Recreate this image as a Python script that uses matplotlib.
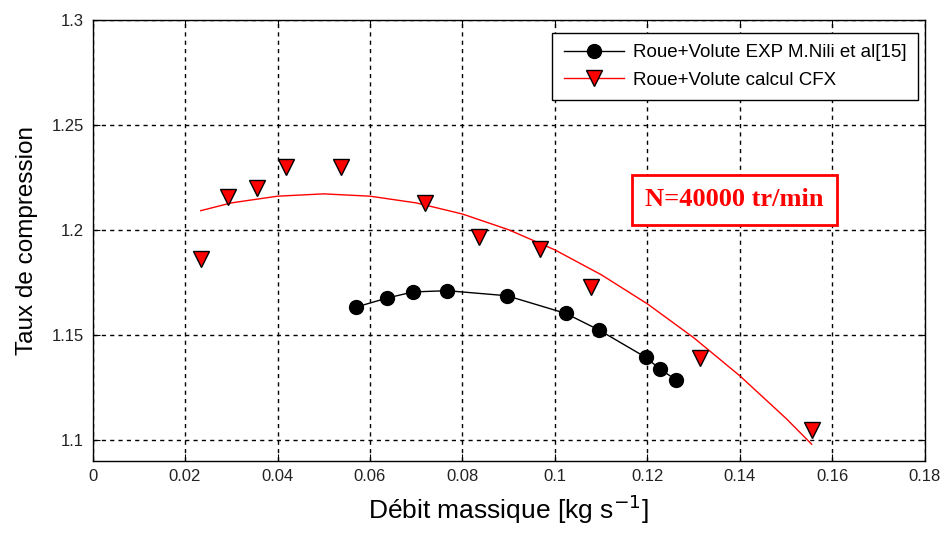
import numpy as np
import matplotlib
matplotlib.use("Agg")
import matplotlib.pyplot as plt

# Experimental points (black circles)
exp_x = [0.0570, 0.0637, 0.0693, 0.0767, 0.0896, 0.1023, 0.1095, 0.1196, 0.1227, 0.1262]
exp_y = [1.1633, 1.1676, 1.1705, 1.1711, 1.1687, 1.1603, 1.1524, 1.1394, 1.1338, 1.1286]

# CFX points (red triangles)
cfx_x = [0.0234, 0.0294, 0.0355, 0.0418, 0.0537, 0.0719, 0.0836, 0.0968, 0.1077, 0.1314, 0.1556]
cfx_y = [1.1860, 1.2159, 1.2199, 1.2301, 1.2301, 1.2130, 1.1968, 1.1908, 1.1727, 1.1390, 1.1048]

# trend curve
fit_x = [0.0234, 0.03, 0.04, 0.05, 0.06, 0.07, 0.08, 0.09, 0.10, 0.11, 0.12, 0.13, 0.14, 0.15, 0.1555]
fit_y = [1.2092, 1.2129, 1.2161, 1.2172, 1.2161, 1.2129, 1.2076, 1.2001, 1.1905, 1.1787,
         1.1648, 1.1487, 1.1305, 1.1102, 1.0980]

xticks = [0, 0.02, 0.04, 0.06, 0.08, 0.1, 0.12, 0.14, 0.16, 0.18]
yticks = [1.1, 1.15, 1.2, 1.25, 1.3]

plt.rcParams['font.family'] = ['Liberation Sans', 'DejaVu Sans']

fig = plt.figure(figsize=(9.45, 5.37), dpi=100)
ax = fig.add_axes([0.0979, 0.1415, 0.8809, 0.8213])

ax.plot(exp_x, exp_y, color='black', lw=1, marker='o', ms=10,
        mfc='black', mec='black', label='Roue+Volute EXP M.Nili et al[15]', zorder=3)
ax.plot(fit_x, fit_y, color='red', lw=1, zorder=2)
ax.plot(cfx_x, cfx_y, ls='none', marker='v', ms=11, mfc='red', mec='black',
        mew=1, zorder=4)
# legend proxy: red line + triangle
ax.plot([], [], color='red', lw=1, marker='v', ms=11, mfc='red', mec='black',
        label='Roue+Volute calcul CFX')

ax.set_xlim(0, 0.18)
ax.set_ylim(1.09, 1.3)
ax.set_xticks(xticks)
ax.set_xticklabels(['0', '0.02', '0.04', '0.06', '0.08', '0.1', '0.12', '0.14', '0.16', '0.18'])
ax.set_yticks(yticks)
ax.set_yticklabels(['1.1', '1.15', '1.2', '1.25', '1.3'])
ax.tick_params(direction='in', top=True, right=True, labelsize=12, length=5,
               colors='black', labelcolor='#222222', pad=6)

ax.grid(True, color='black', ls=(0, (3, 3)), lw=1)
for s in ax.spines.values():
    s.set_linewidth(1)

ax.set_xlabel('Débit massique [kg s$^{-1}$]', fontsize=19, labelpad=6)
ax.set_ylabel('Taux de compression', fontsize=17.5, labelpad=10)

leg = ax.legend(loc='upper right', bbox_to_anchor=(0.9916, 0.9705), fontsize=13.5,
                frameon=True, fancybox=False, edgecolor='black', framealpha=1,
                handlelength=3.2, handletextpad=0.5, borderaxespad=0,
                borderpad=0.6, labelspacing=0.55)
leg.get_frame().set_linewidth(1)

ax.text(0.1388, 1.2143, 'N=40000 tr/min', color='red', fontsize=19, fontweight='bold',
        family='Liberation Serif', ha='center', va='center', zorder=5,
        bbox=dict(boxstyle='square,pad=0.5', fc='white', ec='red', lw=2))

plt.savefig('out.png', dpi=100)
